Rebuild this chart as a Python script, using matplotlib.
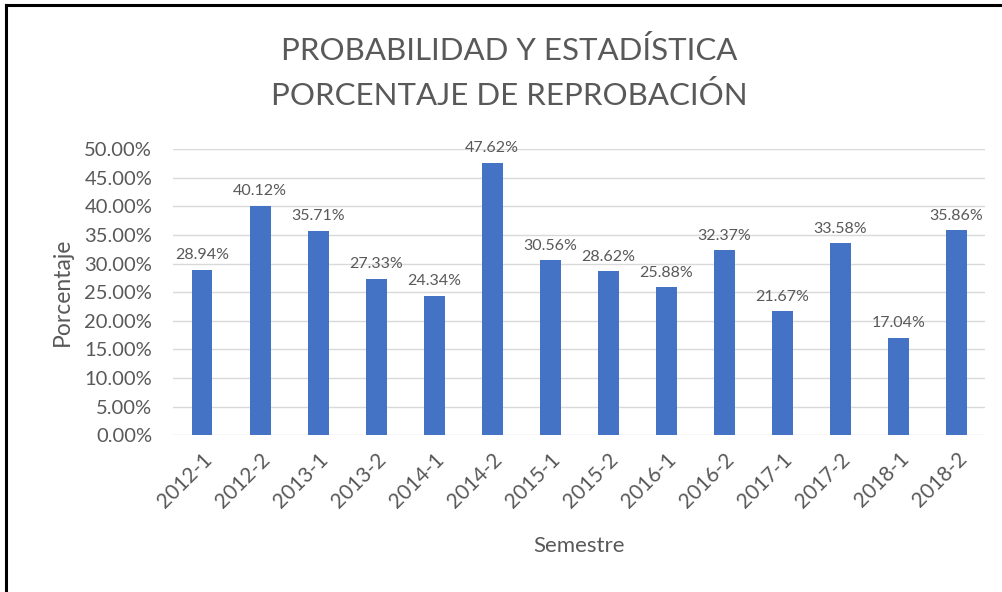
import matplotlib.pyplot as plt
from matplotlib.lines import Line2D

semestres = ["2012-1", "2012-2", "2013-1", "2013-2", "2014-1", "2014-2", "2015-1",
             "2015-2", "2016-1", "2016-2", "2017-1", "2017-2", "2018-1", "2018-2"]
reprobacion = [28.94, 40.12, 35.71, 27.33, 24.34, 47.62, 30.56,
               28.62, 25.88, 32.37, 21.67, 33.58, 17.04, 35.86]
yticks = [0, 5, 10, 15, 20, 25, 30, 35, 40, 45, 50]

plt.rcParams['font.family'] = ['Lato', 'DejaVu Sans']
gray = '#595959'

fig = plt.figure(figsize=(10.03, 5.92), dpi=100)
ax = fig.add_axes([0.1725, 0.265, 0.81, 0.483])

x = range(len(semestres))
ax.bar(x, reprobacion, width=0.36, color='#4472c4', zorder=3)
for i, v in zip(x, reprobacion):
    ax.text(i, v + 1.3, f"{v:.2f}%", ha='center', va='bottom', fontsize=11.5, color=gray)

ax.set_xlim(-0.5, len(semestres) - 0.5)
ax.set_ylim(0, 50)
ax.set_yticks(yticks)
ax.set_yticklabels([f"{t:.2f}%" for t in yticks], fontsize=14.5, color=gray)
ax.set_xticks(list(x))
ax.set_xticklabels(semestres, rotation=45, ha='right', rotation_mode='anchor',
                   fontsize=15, color=gray)
ax.grid(axis='y', color='#d9d9d9', linewidth=1, zorder=0)
ax.tick_params(axis='y', length=0, pad=15)
ax.tick_params(axis='x', length=0, pad=10)
for s in ax.spines.values():
    s.set_visible(False)

ax.set_xlabel("Semestre", fontsize=16, color=gray, labelpad=18)
ax.set_ylabel("Porcentaje", fontsize=16.5, color=gray, labelpad=8)

fig.text(0.508, 0.915, "PROBABILIDAD Y ESTADÍSTICA", ha='center', va='center',
         fontsize=22.5, color=gray)
fig.text(0.508, 0.839, "PORCENTAJE DE REPROBACIÓN", ha='center', va='center',
         fontsize=22.5, color=gray)

# frame lines (left and top)
fig.add_artist(Line2D([0.006, 0.006], [0, 0.992], color='black', linewidth=2.2,
                      transform=fig.transFigure))
fig.add_artist(Line2D([0.006, 0.999], [0.992, 0.992], color='black', linewidth=2.2,
                      transform=fig.transFigure))

fig.savefig("out.png", dpi=100)
